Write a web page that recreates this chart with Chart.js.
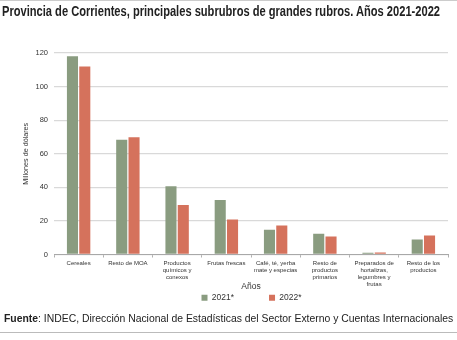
<!DOCTYPE html>
<html><head><meta charset="utf-8">
<script src="https://cdn.jsdelivr.net/npm/chart.js@4"></script>
<style>
html,body{margin:0;padding:0;background:#fff;width:457px;height:340px;overflow:hidden;position:relative}
#title{position:absolute;left:2px;top:3px;font-family:"Liberation Sans Narrow","Arial Narrow","Liberation Sans",sans-serif;font-weight:bold;font-size:14px;color:#222;white-space:nowrap;transform-origin:0 0}
#src{position:absolute;left:4px;top:313px;font-family:"Liberation Sans",Arial,sans-serif;font-size:10.4px;color:#222;white-space:nowrap}
#topline{position:absolute;left:0;top:0;width:457px;height:1px;background:#ccc}
#botline{position:absolute;left:0;top:332px;width:457px;height:1px;background:#bbb}
canvas{position:absolute;left:0;top:0}
</style></head>
<body>
<div id="topline"></div>
<canvas id="c" width="457" height="340"></canvas>
<div id="title">Provincia de Corrientes, principales subrubros de grandes rubros. Años 2021-2022</div>
<div id="src"><b>Fuente</b>: INDEC, Dirección Nacional de Estadísticas del Sector Externo y Cuentas Internacionales</div>
<div id="botline"></div>
<script>
const categories = [
  ["Cereales"],
  ["Resto de MOA"],
  ["Productos","químicos y","conexos"],
  ["Frutas frescas"],
  ["Café, té, yerba","mate y especias"],
  ["Resto de","productos","primarios"],
  ["Preparados de","hortalizas,","legumbres y","frutas"],
  ["Resto de los","productos"]
];
const series2021 = [118, 68.4, 40.7, 32.4, 14.8, 12.4, 1.0, 8.9];
const series2022 = [112, 69.8, 29.5, 20.8, 17.2, 10.7, 1.2, 11.3];
const seriesNames = ["2021*", "2022*"];
const yTicks = [0, 20, 40, 60, 80, 100, 120];

// fit title width (condensed look)
const t = document.getElementById('title');
const tw = t.getBoundingClientRect().width;
t.style.transform = 'scaleX(' + (438 / tw) + ')';

const FONT = "'Liberation Sans', Arial, sans-serif";
const legendShift = {
  id: 'legendShift',
  afterLayout(chart) {
    const lg = chart.legend;
    if (!lg) return;
    const curCenter = (lg.left + lg.right) / 2;
    const target = 251.5;
    const d = target - curCenter;
    lg.left += d; lg.right += d;
  }
};
new Chart(document.getElementById('c'), {
  type: 'bar',
  data: {
    labels: categories,
    datasets: [
      {label: seriesNames[0], data: series2021, backgroundColor: '#8a9c80', barPercentage: 0.9, categoryPercentage: 0.5},
      {label: seriesNames[1], data: series2022, backgroundColor: '#d5725c', barPercentage: 0.9, categoryPercentage: 0.5}
    ]
  },
  plugins: [legendShift],
  options: {
    responsive: false,
    animation: false,
    layout: {padding: {left: 0, right: 9, top: 53, bottom: 28}},
    plugins: {
      title: {display: false},
      tooltip: {enabled: false},
      legend: {
        position: 'bottom',
        labels: {boxWidth: 6, boxHeight: 6, padding: 2, font: {family: FONT, size: 8.5}, color: '#333',
          generateLabels(chart) {
            const items = Chart.defaults.plugins.legend.labels.generateLabels(chart);
            items.forEach((i, k) => { i.lineWidth = 0; if (k === 0) i.text = i.text + '              '; });
            return items;
          }}
      }
    },
    scales: {
      x: {
        grid: {display: true, drawOnChartArea: false, offset: true, tickLength: 3, color: '#b0b0b0'},
        border: {display: true, color: '#a8a8a8', width: 1},
        ticks: {font: {family: FONT, size: 6}, color: '#333', maxRotation: 0, autoSkip: false, padding: 2},
        title: {display: true, text: 'Años', font: {family: FONT, size: 8.5}, color: '#333', padding: {top: 1, bottom: 0}},
        afterFit(s) { s.height = 37; }
      },
      y: {
        min: 0, max: 120,
        afterBuildTicks(s) { s.ticks = yTicks.map(v => ({value: v})); },
        grid: {color: '#d9d9d9', lineWidth: 1.3, drawTicks: false},
        border: {display: false},
        ticks: {font: {family: FONT, size: 7.5}, color: '#333', padding: 6},
        title: {display: true, text: 'Millones de dólares', font: {family: FONT, size: 7.2}, color: '#333', padding: {top: 22, bottom: 0}},
        afterFit(s) { s.width = 54; }
      }
    }
  }
});
</script>
</body></html>
